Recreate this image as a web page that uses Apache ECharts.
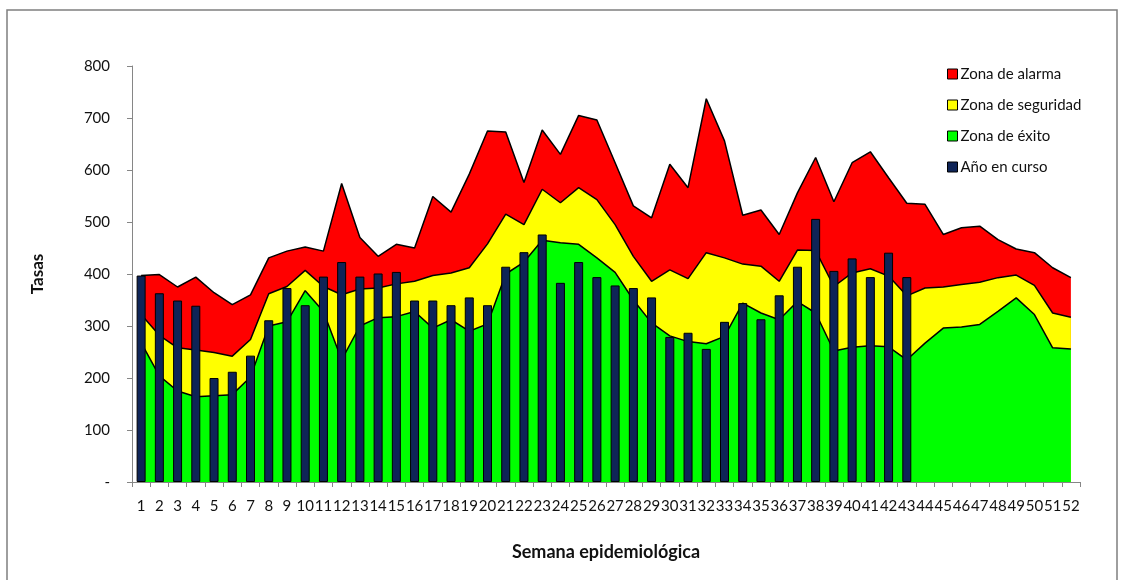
<!DOCTYPE html>
<html><head><meta charset="utf-8">
<script src="https://cdn.jsdelivr.net/npm/echarts@6/dist/echarts.min.js"></script>
<style>html,body{margin:0;padding:0;background:#fff}#c{width:1121px;height:580px}</style>
</head><body><div id="c"></div>
<script>
const weeks = ['1','2','3','4','5','6','7','8','9','10','11','12','13','14','15','16','17','18','19','20','21','22','23','24','25','26','27','28','29','30','31','32','33','34','35','36','37','38','39','40','41','42','43','44','45','46','47','48','49','50','51','52'];
const zonaAlarma = [397,399,375,394,364,341,360,431,444,452,444,574,470,434,457,450,549,519,592,675,673,576,677,630,705,696,614,531,508,611,566,737,656,513,523,476,556,624,539,614,635,585,536,534,476,489,492,466,448,441,412,393];
const zonaSeguridad = [322,282,258,254,249,242,274,362,376,407,376,360,371,373,381,386,397,402,412,458,515,495,563,537,566,543,495,434,386,408,391,441,431,419,415,386,446,445,376,402,410,396,358,373,375,380,384,393,398,378,325,317];
const zonaExito = [268,204,175,164,166,168,202,300,308,368,328,235,300,316,318,328,296,312,290,304,400,423,465,460,457,431,403,350,306,281,270,266,280,344,325,312,347,325,252,259,262,260,235,267,296,298,303,328,354,322,258,256];
const anioEnCurso = [397,363,349,339,200,212,243,311,373,340,395,423,395,401,404,349,349,340,355,340,414,442,476,383,423,394,378,373,355,279,287,256,308,344,313,359,414,506,406,430,394,441,394];
const yTickLabels = ['-','100','200','300','400','500','600','700','800'];
const seriesNames = ['Zona de alarma','Zona de seguridad','Zona de éxito','Año en curso'];
const seriesColors = ['#FF0000','#FFFF00','#00FF00','#0E2457'];

const FONT = 'Lato';
const chart = echarts.init(document.getElementById('c'), null, {renderer:'canvas'});
function area(i, data){
  return {
    name: seriesNames[i], type:'line', data: data, z:2,
    symbol:'none', showSymbol:false, silent:true,
    lineStyle:{color:'#000', width:1.5},
    itemStyle:{color: seriesColors[i]},
    areaStyle:{color: seriesColors[i], opacity:1}
  };
}
chart.setOption({
  animation:false,
  backgroundColor:'#fff',
  textStyle:{fontFamily:FONT},
  graphic:[{type:'rect', shape:{x:7, y:10, width:1110, height:620}, style:{fill:'none', stroke:'#7f7f7f', lineWidth:1.5}, silent:true}],
  grid:{left:132, right:41, top:66, bottom:98},
  legend:{
    orient:'vertical', left:942, top:60, itemWidth:10, itemHeight:10, itemGap:13,
    textStyle:{fontFamily:FONT, fontSize:15, color:'#111', lineHeight:18, padding:[0,0,0,-2]},
    data: seriesNames.map((n,i)=>({name:n, icon:'rect', itemStyle:{color:seriesColors[i], borderColor:'#000', borderWidth:1}}))
  },
  xAxis:{
    type:'category', data: weeks, boundaryGap:true,
    name:'Semana epidemiológica', nameLocation:'middle', nameGap:61,
    nameTextStyle:{fontFamily:FONT, fontSize:18, fontWeight:'bold', color:'#111'},
    axisLine:{lineStyle:{color:'#868686', width:1}},
    axisTick:{show:true, length:5, lineStyle:{color:'#868686'}, interval:0},
    axisLabel:{interval:0, margin:17, fontFamily:FONT, fontSize:15, color:'#111'}
  },
  yAxis:{
    type:'value', min:0, max:800, interval:100,
    name:'Tasas', nameLocation:'middle', nameGap:86, nameRotate:90,
    nameTextStyle:{fontFamily:FONT, fontSize:17, fontWeight:'bold', color:'#111'},
    axisLine:{show:true, lineStyle:{color:'#868686', width:1}},
    axisTick:{show:true, length:5, lineStyle:{color:'#868686'}},
    splitLine:{show:false},
    axisLabel:{margin:22, fontFamily:FONT, fontSize:15, color:'#111', formatter:(v)=>yTickLabels[Math.round(v/100)]}
  },
  series:[
    area(0, zonaAlarma),
    area(1, zonaSeguridad),
    area(2, zonaExito),
    {name: seriesNames[3], type:'bar', data: anioEnCurso, barWidth:9, silent:true, z:10,
     itemStyle:{color: seriesColors[3], borderColor:'#000', borderWidth:1}}
  ]
});
</script></body></html>
